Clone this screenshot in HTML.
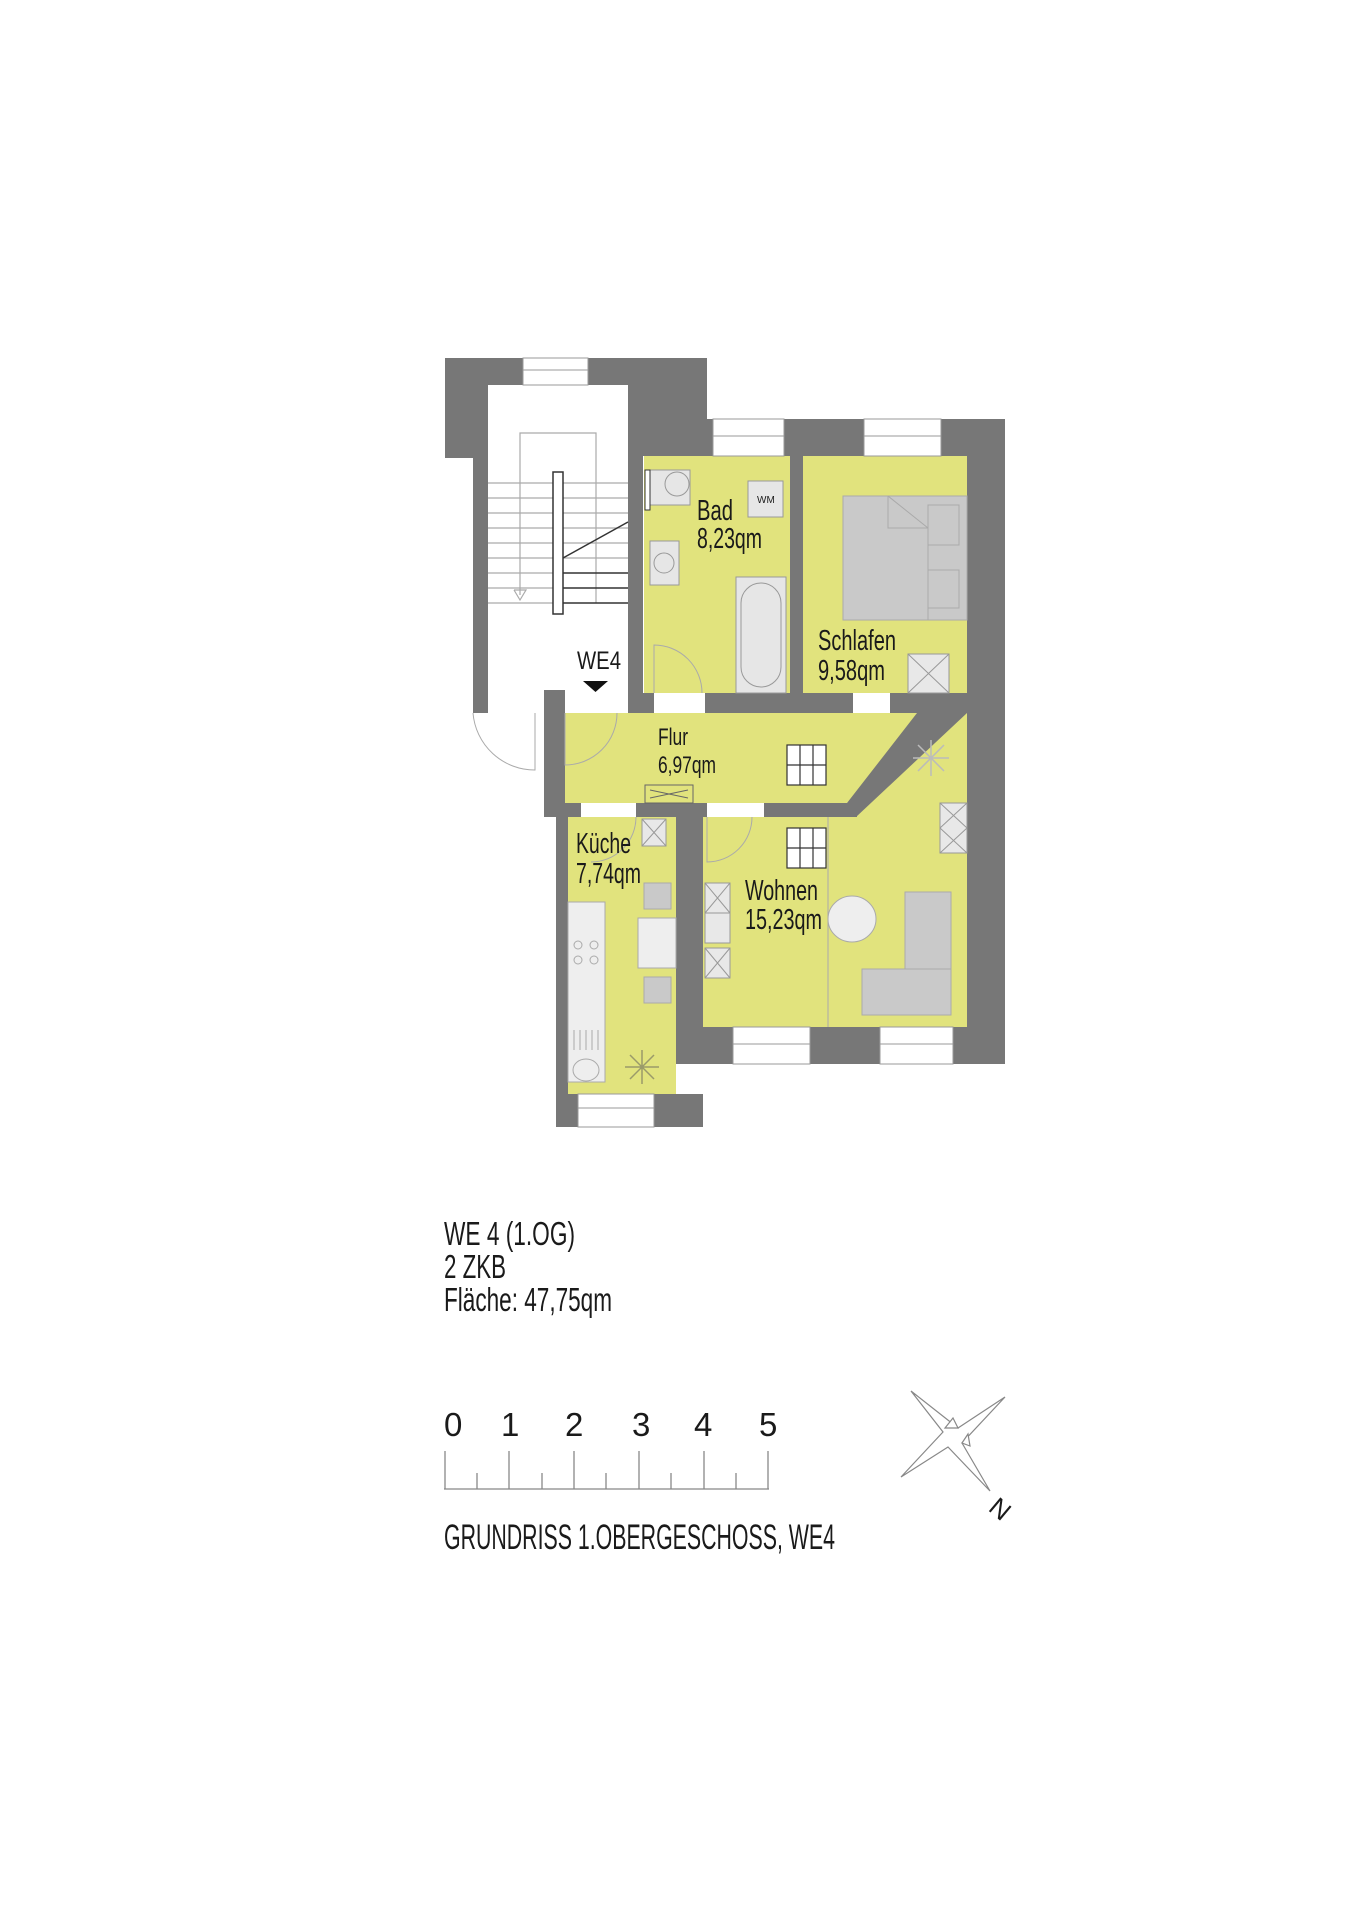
<!DOCTYPE html>
<html><head><meta charset="utf-8"><style>
html,body{margin:0;padding:0;background:#fff;}
svg{display:block;}
text{font-family:"Liberation Sans Narrow","Liberation Sans",sans-serif;fill:#1a1a1a;}
</style></head><body>
<svg width="1358" height="1920" viewBox="0 0 1358 1920" xmlns="http://www.w3.org/2000/svg">
<rect width="1358" height="1920" fill="#fff"/>
<!-- rooms yellow -->
<g fill="#e1e37d">
<rect x="644" y="456" width="146" height="237"/>
<rect x="803" y="456" width="164" height="237"/>
<polygon points="565,713 929,713 847,803 565,803"/>
<polygon points="703,817 856,817 941,713 967,713 967,1027 703,1027"/>
<rect x="568" y="817" width="108" height="277"/>
</g>
<!-- walls -->
<g fill="#777777">
<!-- stair block -->
<polygon points="445,358 523,358 523,385 488,385 488,713 473,713 473,458 445,458"/>
<polygon points="588,358 707,358 707,419 1005,419 1005,1064 967,1064 967,456 643,456 643,713 628,713 628,385 588,385"/>
<!-- top windows cut later -->
<rect x="790" y="456" width="13" height="237"/>
<rect x="643" y="693" width="324" height="20"/>
<rect x="544" y="690" width="21" height="127"/>
<rect x="544" y="803" width="313" height="14"/>
<polygon points="917,713 967,713 856,817 840,817 840,803 847,803"/>
<rect x="556" y="817" width="12" height="310"/>
<rect x="676" y="817" width="27" height="247"/>
<rect x="556" y="1094" width="147" height="33"/>
<rect x="703" y="1027" width="302" height="37"/>
</g>
<!-- openings / windows (white) -->
<g fill="#fff" stroke="#9a9a9a" stroke-width="1">
<rect x="523" y="358" width="65" height="27"/>
<rect x="713" y="419" width="71" height="37"/>
<rect x="864" y="419" width="77" height="37"/>
<rect x="578" y="1094" width="76" height="33"/>
<rect x="733" y="1027" width="77" height="37"/>
<rect x="880" y="1027" width="73" height="37"/>
</g>
<g stroke="#9a9a9a" stroke-width="1">
<line x1="523" y1="370" x2="588" y2="370"/><line x1="713" y1="436" x2="784" y2="436"/>
<line x1="864" y1="436" x2="941" y2="436"/><line x1="578" y1="1108" x2="654" y2="1108"/>
<line x1="733" y1="1044" x2="810" y2="1044"/><line x1="880" y1="1044" x2="953" y2="1044"/>
</g>
<g fill="#fff"><rect x="654" y="693" width="51" height="20"/><rect x="853" y="693" width="37" height="20"/>
<rect x="565" y="690" width="63" height="23"/>
<rect x="581" y="803" width="55" height="14"/><rect x="707" y="803" width="57" height="14"/></g>
<!-- stairs -->
<g stroke="#aaa" stroke-width="1.2" fill="none">
<line x1="488" y1="483" x2="628" y2="483"/><line x1="488" y1="498" x2="628" y2="498"/>
<line x1="488" y1="513" x2="628" y2="513"/><line x1="488" y1="528" x2="628" y2="528"/>
<line x1="488" y1="543" x2="628" y2="543"/><line x1="488" y1="558" x2="628" y2="558"/>
<line x1="488" y1="573" x2="553" y2="573"/><line x1="488" y1="588" x2="553" y2="588"/>
<line x1="488" y1="603" x2="553" y2="603"/>
<polyline points="520,595 520,433 596,433 596,603"/>
<polyline points="514,590 520,600 526,590 514,590"/>
</g>
<g stroke="#333" stroke-width="1.5"><line x1="563" y1="558" x2="628" y2="522"/>
<line x1="563" y1="573" x2="628" y2="573"/><line x1="563" y1="588" x2="628" y2="588"/><line x1="563" y1="603" x2="628" y2="603"/></g>
<rect x="553" y="472" width="10" height="142" fill="#fff" stroke="#333" stroke-width="1.5"/>
<!-- doors -->
<g stroke="#aaa" stroke-width="1" fill="none">
<path d="M473 713 A 62 62 0 0 0 535 770 L535 713"/>
<path d="M654 693 L654 645 A 48 48 0 0 1 702 693"/>
<path d="M565 713 L565 765 A 52 52 0 0 0 617 713"/>
<path d="M707 817 L707 862 A 45 45 0 0 0 752 817"/>
<path d="M636 817 A 45 45 0 0 1 591 862"/>
<line x1="828" y1="817" x2="828" y2="1027"/>
</g>
<!-- Bad furniture -->
<g fill="#e6e6e6" stroke="#999" stroke-width="1">
<rect x="645" y="470" width="45" height="35"/><circle cx="677" cy="484" r="12"/>
<rect x="748" y="481" width="35" height="36"/>
<rect x="650" y="541" width="29" height="44"/><circle cx="664" cy="563" r="10"/>
<rect x="736" y="577" width="50" height="116"/><rect x="741" y="583" width="40" height="104" rx="20"/>
</g>
<text x="757" y="503" font-size="10" fill="#777">WM</text>
<rect x="645" y="470" width="5" height="40" fill="#fff" stroke="#333"/>
<!-- bed -->
<g fill="#c9c9c9" stroke="#aaa" stroke-width="1">
<rect x="843" y="496" width="124" height="124"/>
<polyline points="888,496 888,528 928,528 928,620" fill="none"/>
<polyline points="888,496 928,528" fill="none"/>
<rect x="928" y="505" width="31" height="40"/><rect x="928" y="570" width="31" height="38"/>
</g>
<!-- X boxes -->
<g fill="#e8e8e8" stroke="#999" stroke-width="1">
<rect x="908" y="654" width="41" height="39"/><rect x="642" y="819" width="24" height="27"/>
<rect x="940" y="803" width="27" height="50"/>
<rect x="705" y="883" width="25" height="30"/><rect x="705" y="913" width="25" height="30"/><rect x="705" y="948" width="25" height="30"/>
</g>
<g stroke="#999" stroke-width="1">
<path d="M908 654 L949 693 M949 654 L908 693 M642 819 L666 846 M666 819 L642 846 M940 803 L967 828 M967 803 L940 828 M940 828 L967 853 M967 828 L940 853 M705 883 L730 913 M730 883 L705 913 M705 948 L730 978 M730 948 L705 978"/>
</g>
<!-- stair boxes -->
<g fill="#fff" stroke="#333" stroke-width="1.2">
<rect x="787" y="745" width="39" height="40"/><rect x="787" y="828" width="39" height="40"/>
</g>
<g stroke="#333" stroke-width="1.2"><path d="M800 745 V785 M813 745 V785 M787 765 H826 M800 828 V868 M813 828 V868 M787 848 H826"/></g>
<!-- radiator -->
<g stroke="#666" stroke-width="1" fill="none"><rect x="645" y="785" width="48" height="18"/><path d="M650 790 L688 798 M650 798 L688 790"/></g>
<!-- Wohnen furniture -->
<ellipse cx="852" cy="919" rx="24" ry="23" fill="#eee" stroke="#aaa"/>
<g fill="#c9c9c9" stroke="#aaa"><rect x="905" y="892" width="46" height="123"/><rect x="862" y="969" width="89" height="46"/></g>
<g stroke="#bbb" stroke-width="1.5" fill="none"><path d="M931 740 L931 776 M913 758 L949 758 M918 745 L944 771 M944 745 L918 771"/>
<path d="M642 1050 L642 1084 M625 1067 L659 1067 M630 1055 L654 1079 M654 1055 L630 1079" stroke="#9a9a6a"/></g>
<!-- kitchen -->
<g fill="#eee" stroke="#aaa"><rect x="568" y="902" width="37" height="180"/>
<rect x="638" y="918" width="38" height="50"/></g>
<g fill="#c9c9c9" stroke="#aaa"><rect x="644" y="883" width="27" height="26"/><rect x="644" y="977" width="27" height="26"/></g>
<g stroke="#aaa" fill="none"><circle cx="578" cy="945" r="4"/><circle cx="594" cy="945" r="4"/><circle cx="578" cy="960" r="4"/><circle cx="594" cy="960" r="4"/>
<ellipse cx="586" cy="1070" rx="13" ry="11"/><path d="M574 1030 V1050 M580 1030 V1050 M586 1030 V1050 M592 1030 V1050 M598 1030 V1050"/></g>
<!-- WE4 -->
<text x="577" y="669" font-size="25" textLength="44" lengthAdjust="spacingAndGlyphs">WE4</text>
<polygon points="583,681 608,681 595.5,692" fill="#111"/>
<!-- labels -->
<g font-size="29">
<text x="697" y="520" textLength="36" lengthAdjust="spacingAndGlyphs">Bad</text>
<text x="697" y="548" textLength="65" lengthAdjust="spacingAndGlyphs">8,23qm</text>
<text x="818" y="650" textLength="78" lengthAdjust="spacingAndGlyphs">Schlafen</text>
<text x="818" y="680" textLength="67" lengthAdjust="spacingAndGlyphs">9,58qm</text>
<text x="576" y="853" textLength="55" lengthAdjust="spacingAndGlyphs">Küche</text>
<text x="576" y="883" textLength="65" lengthAdjust="spacingAndGlyphs">7,74qm</text>
<text x="745" y="900" textLength="73" lengthAdjust="spacingAndGlyphs">Wohnen</text>
<text x="745" y="929" textLength="77" lengthAdjust="spacingAndGlyphs">15,23qm</text>
</g>
<g font-size="24">
<text x="658" y="745" textLength="30" lengthAdjust="spacingAndGlyphs">Flur</text>
<text x="658" y="773" textLength="58" lengthAdjust="spacingAndGlyphs">6,97qm</text>
</g>
<!-- info -->
<g font-size="33">
<text x="444" y="1245" textLength="131" lengthAdjust="spacingAndGlyphs">WE 4 (1.OG)</text>
<text x="444" y="1278" textLength="62" lengthAdjust="spacingAndGlyphs">2 ZKB</text>
<text x="444" y="1311" textLength="168" lengthAdjust="spacingAndGlyphs">Fläche: 47,75qm</text>
<text x="444" y="1436">0</text><text x="501" y="1436">1</text><text x="565" y="1436">2</text>
<text x="632" y="1436">3</text><text x="694" y="1436">4</text><text x="759" y="1436">5</text>
<text x="444" y="1549" font-size="35" textLength="391" lengthAdjust="spacingAndGlyphs">GRUNDRISS 1.OBERGESCHOSS, WE4</text>
</g>
<g stroke="#888" stroke-width="1.3">
<line x1="444" y1="1489" x2="769" y2="1489"/>
<path d="M445 1451 V1489 M509 1451 V1489 M574 1451 V1489 M639 1451 V1489 M704 1451 V1489 M768 1451 V1489 M477 1473 V1489 M542 1473 V1489 M606 1473 V1489 M671 1473 V1489 M736 1473 V1489"/>
</g>
<!-- compass -->
<g fill="#fff" stroke="#888" stroke-width="1.2">
<polygon points="911,1391 958,1428 1005,1397 962,1443 990,1491 948,1447 901,1477 943,1432"/>
<polygon points="953,1418 958,1428 945,1428" /><polygon points="968,1434 962,1443 970,1446"/>
</g>
<text x="990" y="1518" font-size="26" transform="rotate(40 1000 1510)">N</text>
</svg>
</body></html>
